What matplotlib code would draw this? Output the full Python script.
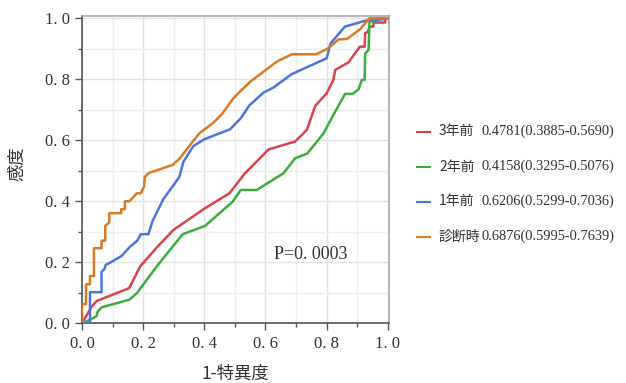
import numpy as np
import matplotlib.pyplot as plt
from matplotlib.lines import Line2D
from matplotlib.ticker import MultipleLocator

# ROC curves (1-specificity, sensitivity)
red_x = [0, 0.032, 0.048, 0.154, 0.19, 0.244, 0.299, 0.37, 0.397, 0.482, 0.533, 0.61,
         0.697, 0.735, 0.763, 0.8, 0.822, 0.828, 0.871, 0.891, 0.909, 0.924, 0.926,
         0.935, 0.94, 0.953, 0.953, 0.991, 0.991, 1.0]
red_y = [0, 0.055, 0.073, 0.115, 0.186, 0.248, 0.306, 0.355, 0.374, 0.426, 0.492, 0.57,
         0.596, 0.634, 0.713, 0.754, 0.798, 0.831, 0.855, 0.883, 0.907, 0.907, 0.951,
         0.956, 0.973, 0.973, 0.986, 0.986, 1.0, 1.0]

green_x = [0, 0.026, 0.048, 0.051, 0.064, 0.092, 0.154, 0.179, 0.244, 0.329, 0.402,
           0.493, 0.519, 0.571, 0.659, 0.697, 0.737, 0.79, 0.822, 0.86, 0.885, 0.904,
           0.915, 0.924, 0.926, 0.937, 0.94, 0.964, 0.964, 1.0]
green_y = [0, 0.011, 0.024, 0.038, 0.052, 0.06, 0.077, 0.098, 0.186, 0.292, 0.319,
           0.399, 0.437, 0.437, 0.492, 0.541, 0.557, 0.623, 0.683, 0.752, 0.752, 0.767,
           0.798, 0.798, 0.885, 0.896, 0.99, 0.99, 1.0, 1.0]

blue_x = [0, 0.026, 0.026, 0.064, 0.064, 0.073, 0.077, 0.092, 0.13, 0.157, 0.181,
          0.192, 0.217, 0.231, 0.266, 0.318, 0.332, 0.364, 0.399, 0.484, 0.519, 0.547,
          0.593, 0.626, 0.686, 0.8, 0.813, 0.86, 0.937, 0.959, 1.0]
blue_y = [0, 0, 0.102, 0.102, 0.169, 0.177, 0.191, 0.199, 0.221, 0.251, 0.271,
          0.292, 0.292, 0.336, 0.407, 0.479, 0.53, 0.581, 0.603, 0.636, 0.672, 0.714,
          0.756, 0.773, 0.817, 0.869, 0.918, 0.973, 0.995, 0.993, 1.0]

orange_x = [0, 0, 0.013, 0.013, 0.026, 0.026, 0.039, 0.039, 0.064, 0.064, 0.076, 0.076,
            0.089, 0.089, 0.128, 0.128, 0.14, 0.14, 0.155, 0.179, 0.192, 0.203, 0.205,
            0.217, 0.296, 0.32, 0.359, 0.384, 0.43, 0.457, 0.495, 0.511, 0.55, 0.637,
            0.686, 0.766, 0.806, 0.839, 0.866, 0.909, 0.94, 1.0]
orange_y = [0, 0.063, 0.063, 0.128, 0.128, 0.155, 0.155, 0.246, 0.246, 0.271, 0.271,
            0.319, 0.33, 0.361, 0.361, 0.374, 0.374, 0.4, 0.4, 0.426, 0.426, 0.448, 0.479,
            0.492, 0.519, 0.541, 0.592, 0.623, 0.658, 0.685, 0.738, 0.754, 0.792, 0.858,
            0.882, 0.882, 0.902, 0.931, 0.932, 0.964, 1.0, 1.0]

names = ["3年前", "2年前", "1年前", "診断時"]
auc_txt = ["0.4781(0.3885-0.5690)", "0.4158(0.3295-0.5076)",
           "0.6206(0.5299-0.7036)", "0.6876(0.5995-0.7639)"]
colors = ["#d9434f", "#3aae3a", "#4a76e0", "#d97a27"]
curves = [(red_x, red_y), (green_x, green_y), (blue_x, blue_y), (orange_x, orange_y)]

ticks = [0, 0.2, 0.4, 0.6, 0.8, 1.0]
tick_labels = ["0. 0", "0. 2", "0. 4", "0. 6", "0. 8", "1. 0"]

serif = ["Liberation Serif", "Noto Sans CJK JP"]
cjk = ["Noto Sans CJK JP", "DejaVu Sans"]

fig = plt.figure(figsize=(6.26, 3.83), dpi=100)
ax = fig.add_axes([0.131, 0.156, 0.49, 0.803])

for (cx, cy), c in zip(curves, colors):
    ax.plot(cx, cy, color=c, lw=1.8, zorder=3)

ax.set_xlim(0, 1.003)
ax.set_ylim(0, 1.0085)
ax.set_xticks(ticks)
ax.set_yticks(ticks)
ax.xaxis.set_minor_locator(MultipleLocator(0.1))
ax.yaxis.set_minor_locator(MultipleLocator(0.1))
ax.set_xticklabels(tick_labels, family=serif, fontsize=12, color="#333333")
ax.set_yticklabels(tick_labels, family=serif, fontsize=12, color="#333333")
ax.tick_params(which="major", length=5, width=1, color="#555555", pad=4)
ax.tick_params(which="minor", length=3, width=1, color="#555555")
ax.grid(which="major", color="#e2e2e2", lw=1)
ax.grid(which="minor", color="#efefef", lw=1)
ax.set_axisbelow(True)

for s in ["left", "bottom"]:
    ax.spines[s].set_color("#555555")
    ax.spines[s].set_linewidth(1.2)
for s in ["top", "right"]:
    ax.spines[s].set_color("#aaaaaa")
    ax.spines[s].set_linewidth(1.2)

ax.set_xlabel("1-特異度", family=cjk, fontsize=12.5, color="#333333")
ax.set_ylabel("感度", family=cjk, fontsize=12.5, color="#333333")
ax.xaxis.set_label_coords(0.5, -0.135)
ax.yaxis.set_label_coords(-0.18, 0.52)

ax.text(0.628, 0.224, "P=0. 0003", family=serif, fontsize=13, color="#333333",
        ha="left", va="center")

# legend drawn by hand so the AUC column lines up
row_y = [1 - 131.5 / 383, 1 - 166.5 / 383, 1 - 201.5 / 383, 1 - 236.5 / 383]
for y, c, n, a in zip(row_y, colors, names, auc_txt):
    fig.add_artist(Line2D([416.5 / 626, 430 / 626], [y, y], color=c, lw=1.5,
                          transform=fig.transFigure))
    fig.text(439 / 626, y, n, family=cjk, fontsize=10, color="#333333",
             ha="left", va="center")
    fig.text(481 / 626, y, a, family=serif, fontsize=10.4, color="#333333",
             ha="left", va="center")

fig.savefig("out.png", dpi=100)
